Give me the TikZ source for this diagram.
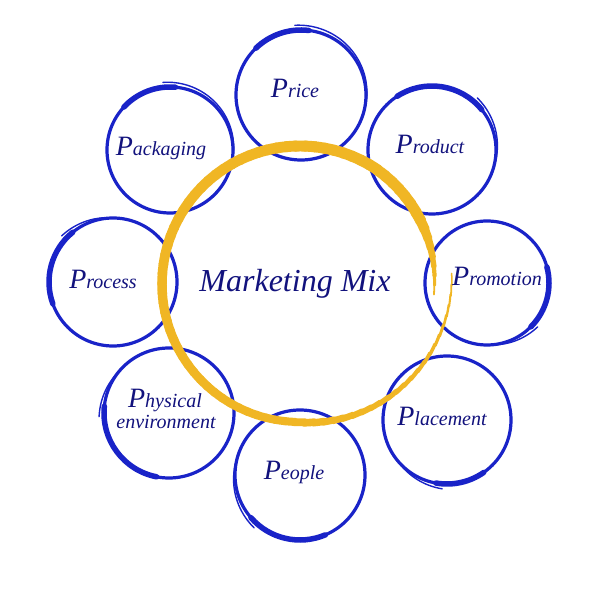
\documentclass[tikz,border=0pt]{standalone}
\usepackage{fontspec}
\setmainfont{Liberation Serif}
\definecolor{ringblue}{RGB}{25,35,200}
\definecolor{textnavy}{RGB}{18,18,125}
\definecolor{mixyellow}{RGB}{240,182,36}
\newcommand\pword[1]{{\fontsize{28}{28}\selectfont P}{\fontsize{20}{20}\selectfont #1}}

\begin{document}
\begin{tikzpicture}[x=1pt,y=1pt,
    ring/.style={ringblue, line width=3.2},
    lbl/.style={textnavy, font=\itshape, anchor=base, inner sep=0pt}]
    \useasboundingbox (0,0) rectangle (600,594);
    \fill[white] (0,0) rectangle (600,594);

    % blue rings: centre / radius / thick part / loose tail
    \foreach \cx/\cy/\r/\ta/\tb/\sa/\sb in {
        301/499/65/83/134/95/-20,
        432/444/64/39/123/49/-17,
        487/311/62/-45/15/-41/-85,
        447/174/64/-100/-55/-94/-140,
        300/119/65/-139/-67/-131/-197,
        169/181/65/174/259/183/140,
        113/312/64/129/200/138/90,
        170/444/63/85/137/96/-13}{
      \draw[ring] (\cx,\cy) circle (\r);
      \draw[ring, line width=5.5, line cap=round] (\cx,\cy) ++(\ta:\r) arc (\ta:\tb:\r);
      \draw[ringblue, line width=1.4, line cap=round]
        plot[domain=\sa:\sb, samples=40]
        ({\cx+(\r+5*(\x-(\sb))/(\sa-(\sb)))*cos(\x)}, {\cy+(\r+5*(\x-(\sb))/(\sa-(\sb)))*sin(\x)});
    }

    % yellow ring, drawn in short pieces so that it thickens
    \coordinate (hub) at (300,310);
    \foreach \a in {4,0,...,-360}{
      \pgfmathsetmacro\rad{138+14*max(0,(\a+90)/94)-4*max(0,(-\a-300)/66)}
      \pgfmathsetmacro\wid{min(1.5+6.5*min(1,(4-\a)/94)+3*max(0,min(1,(-90-\a)/180)),12*min(1,(\a+366)/40))}
      \draw[mixyellow, line width=\wid, line cap=round] (hub) ++(\a:\rad) arc (\a:\a-4.5:\rad);
    }

    \node[lbl, font=\itshape\fontsize{32}{32}\selectfont] (mix) at (295,302) {Marketing Mix};
    \node[lbl] (price) at (295,496) {\pword{rice}};
    \node[lbl] (product) at (430,440) {\pword{roduct}};
    \node[lbl] (promotion) at (497,308) {\pword{romotion}};
    \node[lbl] (placement) at (442,168) {\pword{lacement}};
    \node[lbl] (people) at (294,114) {\pword{eople}};
    \node[lbl] (physical) at (165,186) {\pword{hysical}};
    \node[lbl, font=\itshape\fontsize{20}{20}\selectfont] (environment) at (166,165) {environment};
    \node[lbl] (process) at (103,305) {\pword{rocess}};
    \node[lbl] (packaging) at (161,438) {\pword{ackaging}};
\end{tikzpicture}
\end{document}
